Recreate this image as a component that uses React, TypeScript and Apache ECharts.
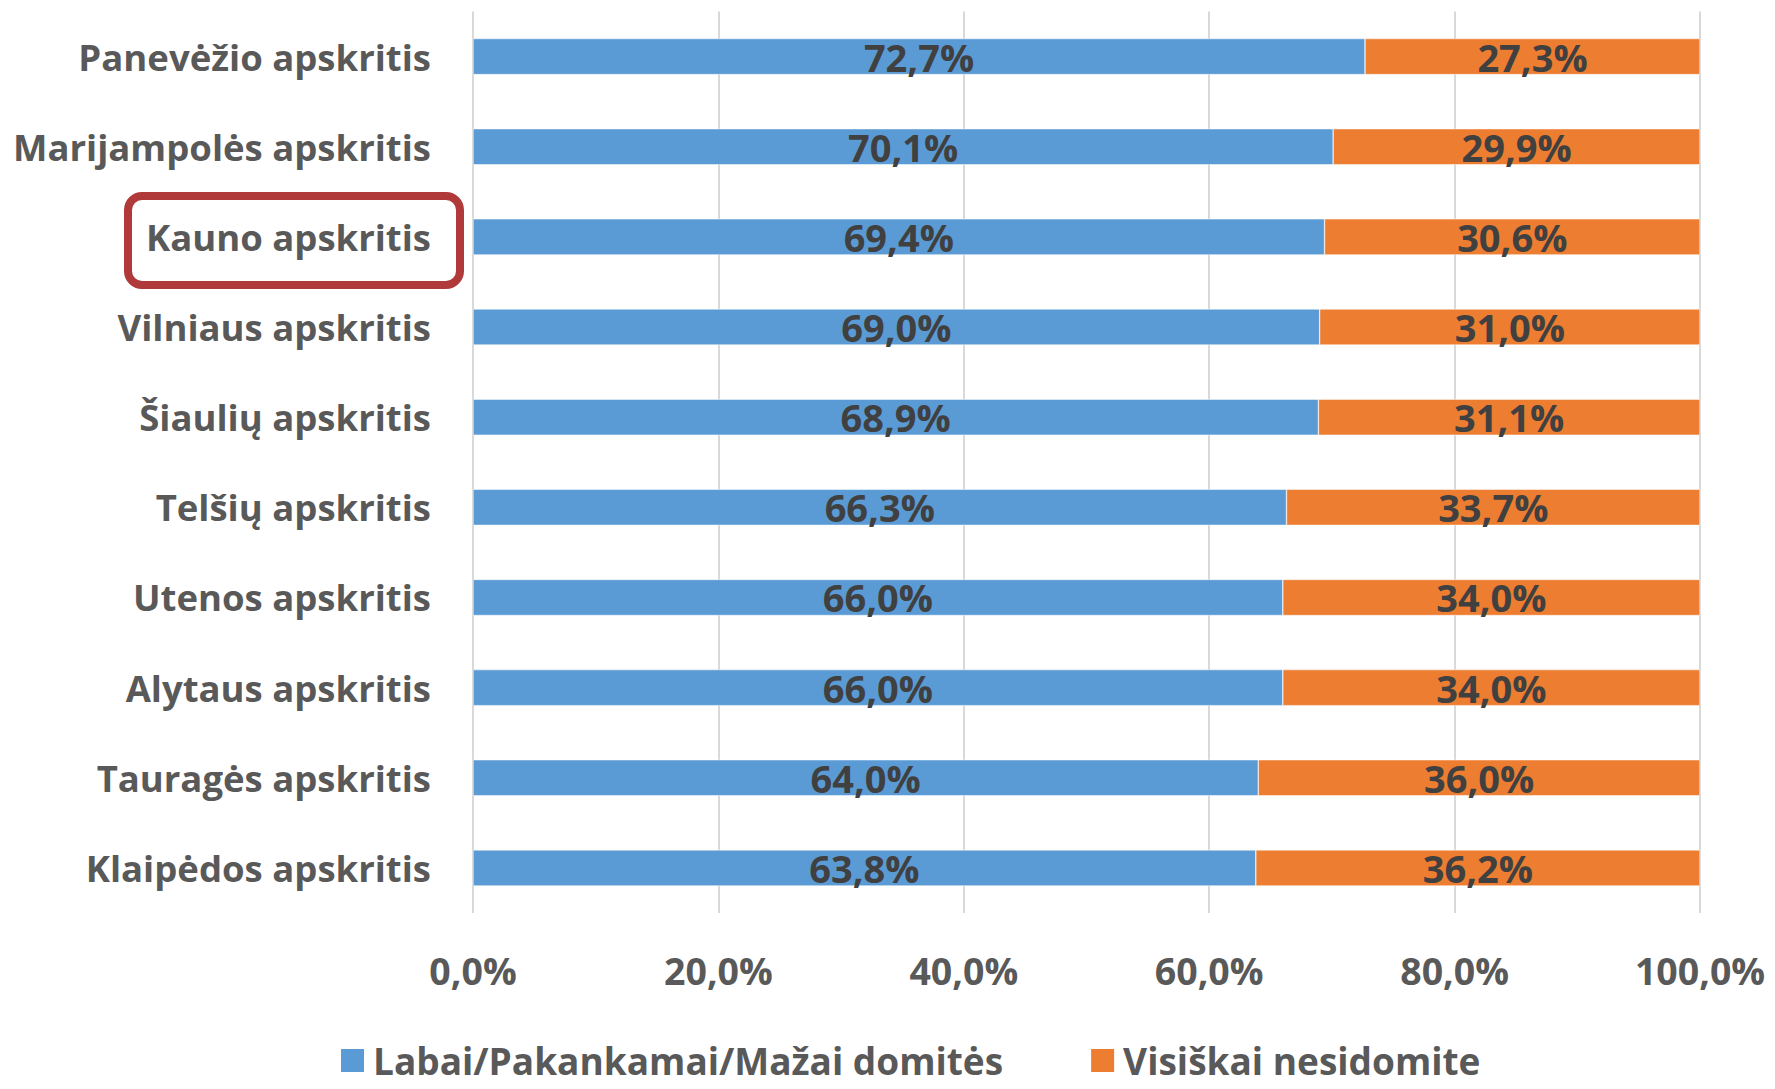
import React, { useEffect, useRef } from "react";
import * as echarts from "echarts";

const categories = [
  "Panevėžio apskritis",
  "Marijampolės apskritis",
  "Kauno apskritis",
  "Vilniaus apskritis",
  "Šiaulių apskritis",
  "Telšių apskritis",
  "Utenos apskritis",
  "Alytaus apskritis",
  "Tauragės apskritis",
  "Klaipėdos apskritis",
];
const interested = [72.7, 70.1, 69.4, 69.0, 68.9, 66.3, 66.0, 66.0, 64.0, 63.8];
const notInterested = [27.3, 29.9, 30.6, 31.0, 31.1, 33.7, 34.0, 34.0, 36.0, 36.2];
const seriesNames = ["Labai/Pakankamai/Mažai domitės", "Visiškai nesidomite"];
const xTicks = [0, 20, 40, 60, 80, 100];

const FONT = "Open Sans";
const fmt = (v: number) => v.toFixed(1).replace(".", ",") + "%";

export default function App() {
  const ref = useRef<HTMLDivElement>(null);
  useEffect(() => {
    if (!ref.current) return;
    const chart = echarts.init(ref.current, undefined, { renderer: "svg" });
    const dataLabel = {
      show: true,
      position: "inside",
      color: "#404040",
      fontFamily: FONT,
      fontWeight: "bold",
      fontSize: 38,
      formatter: (p: any) => fmt(p.value),
    };
    chart.setOption({
      animation: false,
      backgroundColor: "#ffffff",
      grid: { left: 473, right: 75, top: 11.5, bottom: 176, containLabel: false },
      xAxis: {
        type: "value",
        min: xTicks[0],
        max: xTicks[xTicks.length - 1],
        interval: 20,
        axisLine: { show: false },
        axisTick: { show: false },
        splitLine: { show: true, lineStyle: { color: "#D9D9D9", width: 2 } },
        axisLabel: {
          margin: 38,
          color: "#595959",
          fontFamily: FONT,
          fontWeight: "bold",
          fontSize: 37.5,
          formatter: (v: number) => fmt(v),
        },
      },
      yAxis: {
        type: "category",
        data: categories,
        inverse: true,
        axisLine: { show: false },
        axisTick: { show: false },
        axisLabel: {
          margin: 42,
          color: "#595959",
          fontFamily: FONT,
          fontWeight: "bold",
          fontSize: 36.5,
        },
      },
      legend: {
        left: 334,
        top: 1037,
        itemWidth: 25,
        itemHeight: 25,
        itemGap: 86,
        icon: "rect",
        textStyle: {
          color: "#595959",
          fontFamily: FONT,
          fontWeight: "bold",
          fontSize: 37,
          lineHeight: 30,
          padding: [0, 0, 0, 3],
        },
        data: seriesNames,
      },
      series: [
        {
          name: seriesNames[0],
          type: "bar",
          stack: "total",
          data: interested,
          barCategoryGap: "60%",
          itemStyle: { color: "#5B9BD5", borderColor: "#ffffff", borderWidth: 0.5 },
          label: dataLabel,
        },
        {
          name: seriesNames[1],
          type: "bar",
          stack: "total",
          data: notInterested,
          barCategoryGap: "60%",
          itemStyle: { color: "#ED7D31", borderColor: "#ffffff", borderWidth: 0.5 },
          label: dataLabel,
        },
      ],
      graphic: [
        {
          type: "rect",
          shape: { x: 128, y: 196, width: 332, height: 89, r: 14 },
          style: { fill: "none", stroke: "#B03A3A", lineWidth: 8 },
          z: 100,
        },
      ],
    });
    return () => chart.dispose();
  }, []);
  return (
    <div
      ref={ref}
      style={{ position: "fixed", left: 0, top: 0, width: 1775, height: 1089 }}
    />
  );
}
